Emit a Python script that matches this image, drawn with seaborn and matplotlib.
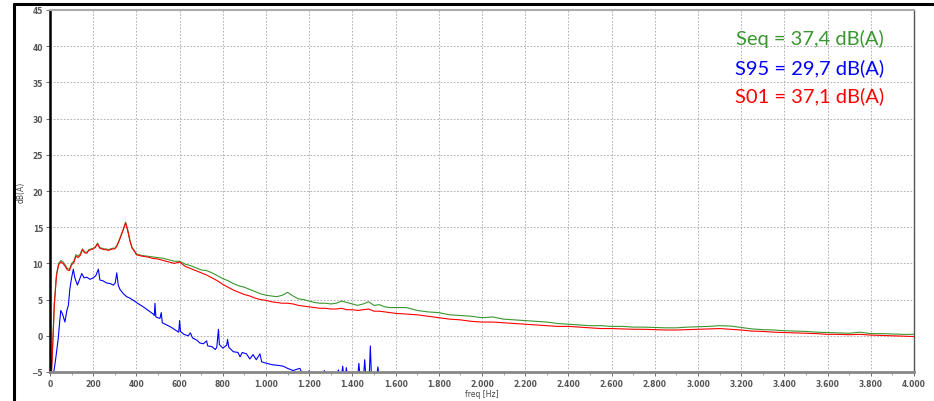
import matplotlib
matplotlib.use("Agg")
import matplotlib.pyplot as plt
from matplotlib.lines import Line2D
from matplotlib.ticker import FuncFormatter, MultipleLocator
import pandas as pd
import seaborn as sns

# shared frequency grid for Seq / S01 (Hz)
freq = [0, 10, 20, 30, 40, 50, 60, 70, 80, 90, 100, 110, 120, 130, 140, 150, 160, 170,
        180, 190, 200, 210, 220, 230, 240, 250, 260, 270, 280, 290, 300, 310, 320, 330,
        340, 350, 360, 370, 380, 390, 400,
        425, 450, 475, 500, 525, 550, 575, 600, 625, 650, 675, 700, 725, 750, 775, 800,
        825, 850, 875, 900, 925, 950, 975, 1000, 1025, 1050, 1075, 1100, 1125, 1150,
        1175, 1200, 1225, 1250, 1275, 1300, 1325, 1350, 1375, 1400, 1425, 1450, 1475,
        1500, 1525, 1550, 1575, 1600,
        1650, 1700, 1750, 1800, 1850, 1900, 1950, 2000, 2050, 2100, 2150, 2200, 2250,
        2300, 2350, 2400, 2450, 2500, 2550, 2600, 2650, 2700, 2750, 2800, 2850, 2900,
        2950, 3000, 3050, 3100, 3150, 3200, 3250, 3300, 3350, 3400, 3450, 3500, 3550,
        3600, 3650, 3700, 3750, 3800, 3850, 3900, 3950, 4000]

seq = [-9, -3, 4.5, 8.5, 10.0, 10.4, 10.2, 9.8, 9.3, 9.2, 10.0, 10.3, 11.2, 11.0, 11.3,
       12.0, 11.6, 11.5, 11.9, 12.0, 12.1, 12.3, 12.8, 12.2, 12.1, 12.0, 12.0, 11.9,
       12.0, 12.1, 12.1, 12.5, 13.2, 14.0, 14.8, 15.7, 14.6, 13.2, 12.2, 11.8, 11.3,
       11.1, 11.0, 10.9, 10.8, 10.7, 10.5, 10.3, 10.3, 9.9, 9.7, 9.4, 9.1, 9.0, 8.7,
       8.3, 7.9, 7.6, 7.2, 6.9, 6.7, 6.4, 6.1, 5.8, 5.6, 5.5, 5.4, 5.6, 6.0, 5.5, 5.1,
       5.0, 4.8, 4.6, 4.5, 4.5, 4.4, 4.5, 4.8, 4.6, 4.4, 4.2, 4.4, 4.7, 4.2, 4.3, 4.0,
       3.9, 3.9,
       3.9, 3.5, 3.3, 3.2, 2.9, 2.8, 2.7, 2.5, 2.6, 2.3, 2.2, 2.1, 2.0, 1.9, 1.7, 1.6,
       1.5, 1.4, 1.4, 1.3, 1.3, 1.2, 1.2, 1.15, 1.1, 1.1, 1.2, 1.25, 1.3, 1.4, 1.35,
       1.15, 0.95, 0.85, 0.8, 0.7, 0.65, 0.6, 0.5, 0.45, 0.4, 0.35, 0.5, 0.3, 0.3, 0.25,
       0.2, 0.2]

s01 = [-9, -3.2, 4.3, 8.3, 9.8, 10.2, 10.0, 9.6, 9.1, 9.0, 9.8, 10.1, 11.0, 10.8, 11.1,
       11.9, 11.5, 11.4, 11.8, 11.9, 12.0, 12.2, 12.7, 12.1, 12.0, 11.9, 11.9, 11.8,
       11.9, 12.0, 12.0, 12.4, 13.1, 13.9, 14.7, 15.6, 14.5, 13.1, 12.1, 11.7, 11.2,
       11.0, 10.9, 10.7, 10.6, 10.4, 10.2, 10.0, 10.2, 9.6, 9.3, 9.0, 8.7, 8.4, 8.0,
       7.6, 7.1, 6.7, 6.3, 6.0, 5.7, 5.5, 5.2, 5.0, 4.9, 4.7, 4.6, 4.5, 4.5, 4.4, 4.2,
       4.1, 4.0, 3.9, 3.8, 3.8, 3.7, 3.7, 3.8, 3.6, 3.6, 3.5, 3.6, 3.7, 3.4, 3.4, 3.3,
       3.2, 3.1,
       3.0, 2.9, 2.7, 2.5, 2.3, 2.2, 2.0, 1.9, 1.9, 1.8, 1.7, 1.6, 1.5, 1.4, 1.3, 1.3,
       1.2, 1.1, 1.0, 1.0, 0.95, 0.9, 0.9, 0.85, 0.8, 0.8, 0.85, 0.9, 0.95, 1.0, 0.9,
       0.8, 0.65, 0.6, 0.5, 0.45, 0.4, 0.35, 0.3, 0.2, 0.2, 0.15, 0.2, 0.1, 0.05, 0.0,
       -0.05, -0.1]

# S95 has its own frequency points (spikes near the bottom)
freq95 = [15, 25, 38, 45, 50, 58, 69, 78, 85, 92, 100, 108, 115, 127, 137, 147, 158, 170,
          185, 200, 212, 224, 231, 245, 262, 280, 293, 302, 309, 316, 324, 340, 355, 370,
          386, 410, 432, 455, 478, 483, 486, 490, 509, 515, 520, 540, 560, 580, 596, 600,
          604, 620, 640, 650, 660, 680, 694, 710, 725, 730, 750, 765, 772, 780, 784, 800,
          818, 822, 828, 849, 870, 880, 890, 910, 925, 940, 955, 972, 980, 1003, 1030,
          1060, 1080, 1100, 1126, 1145, 1157, 1172, 1195, 1200, 1205, 1265, 1270, 1275,
          1330, 1335, 1340, 1350, 1355, 1360, 1368, 1372, 1376, 1425, 1430, 1435, 1452,
          1457, 1462, 1478, 1483, 1488, 1513, 1518, 1523, 4000]
s95 = [-5.5, -3.5, -0.4, 2.0, 3.5, 3.0, 1.9, 3.5, 4.2, 6.5, 8.0, 9.2, 8.0, 7.0, 7.8, 8.6,
       8.0, 8.1, 7.8, 8.0, 8.3, 9.2, 7.7, 7.6, 7.3, 7.2, 7.0, 7.3, 8.7, 7.0, 6.4, 5.8,
       5.4, 5.2, 4.9, 4.4, 4.0, 3.5, 3.0, 2.8, 4.5, 2.6, 2.4, 3.2, 1.8, 1.5, 1.2, 0.8,
       0.5, 2.1, 0.6, 0.2, 0.0, 0.4, -0.3, -0.6, -1.0, -1.1, -0.7, -1.4, -1.5, -1.9,
       -1.6, 0.9, -1.2, -1.7, -1.3, -0.5, -1.6, -2.2, -2.3, -2.9, -2.3, -2.5, -3.2,
       -2.6, -3.3, -2.5, -3.6, -3.8, -4.0, -4.1, -4.2, -4.5, -4.8, -4.6, -4.5, -5.5,
       -5.5, -4.8, -5.5, -5.5, -4.8, -5.5, -5.5, -4.7, -5.5, -5.5, -4.2, -5.5, -5.5,
       -4.4, -5.5, -5.5, -3.8, -5.5, -5.5, -3.3, -5.5, -5.5, -1.4, -5.5, -5.5, -4.3,
       -5.5, -5.5]

labels = ["Seq = 37,4 dB(A)", "S95 = 29,7 dB(A)", "S01 = 37,1 dB(A)"]
colors = ["#3a9630", "#0000ff", "#ff0000"]

spec = pd.DataFrame({"freq": freq, "Seq": seq, "S01": s01})
spec95 = pd.DataFrame({"freq": freq95, "S95": s95})

sns.set_style("white")

fig = plt.figure(figsize=(9.34, 4.02), dpi=100)
ax = fig.add_axes([50 / 934, 1 - 373 / 402, 864 / 934, 362 / 402])

sns.lineplot(data=spec, x="freq", y="Seq", color=colors[0], lw=0.8, ax=ax)
sns.lineplot(data=spec, x="freq", y="S01", color=colors[2], lw=0.8, ax=ax)
sns.lineplot(data=spec95, x="freq", y="S95", color=colors[1], lw=0.8, ax=ax)

ax.set_xlim(0, 4000)
ax.set_ylim(-5, 45)
ax.xaxis.set_major_locator(MultipleLocator(200))
ax.xaxis.set_minor_locator(MultipleLocator(100))
ax.yaxis.set_major_locator(MultipleLocator(5))
ax.xaxis.set_major_formatter(FuncFormatter(lambda v, p: f"{int(v):,}".replace(",", ".")))
ax.grid(True, which="major", color="#a5a5a5", linestyle=(0, (2, 2)), lw=0.6)
ax.tick_params(axis="both", which="major", labelsize=5.5, labelcolor="#555555",
               length=3, width=0.6, color="#555555", direction="out", pad=2)
ax.tick_params(axis="x", which="minor", length=2, width=0.5, color="#777777")
ax.tick_params(bottom=True, left=True, which="both")
for lab in ax.get_xticklabels() + ax.get_yticklabels():
    lab.set_fontweight("bold")

ax.set_xlabel("freq [Hz]", fontsize=5.5, color="#444444", labelpad=1)
ax.set_ylabel("dB(A)", fontsize=5.5, color="#444444", labelpad=4)

ax.spines["left"].set_color("black")
ax.spines["left"].set_linewidth(1.8)
ax.spines["bottom"].set_color("#888888")
ax.spines["bottom"].set_linewidth(2.0)
ax.spines["top"].set_color("#aaaaaa")
ax.spines["top"].set_linewidth(1.5)
ax.spines["right"].set_color("#555555")
ax.spines["right"].set_linewidth(1.0)

# level annotations
for lab, col, base in zip(labels, colors, [45, 74, 102]):
    fig.text(884 / 934, 1 - base / 402, lab, color=col, ha="right", va="baseline",
             fontsize=14.5, family=["Lato", "DejaVu Sans"])

# outer page frame
fig.add_artist(Line2D([14 / 934, 1], [1 - 4.5 / 402, 1 - 4.5 / 402], color="black", lw=2.2))
fig.add_artist(Line2D([14 / 934, 14 / 934], [0, 1 - 4.5 / 402], color="black", lw=2.2))

fig.savefig("out.png", dpi=100)
